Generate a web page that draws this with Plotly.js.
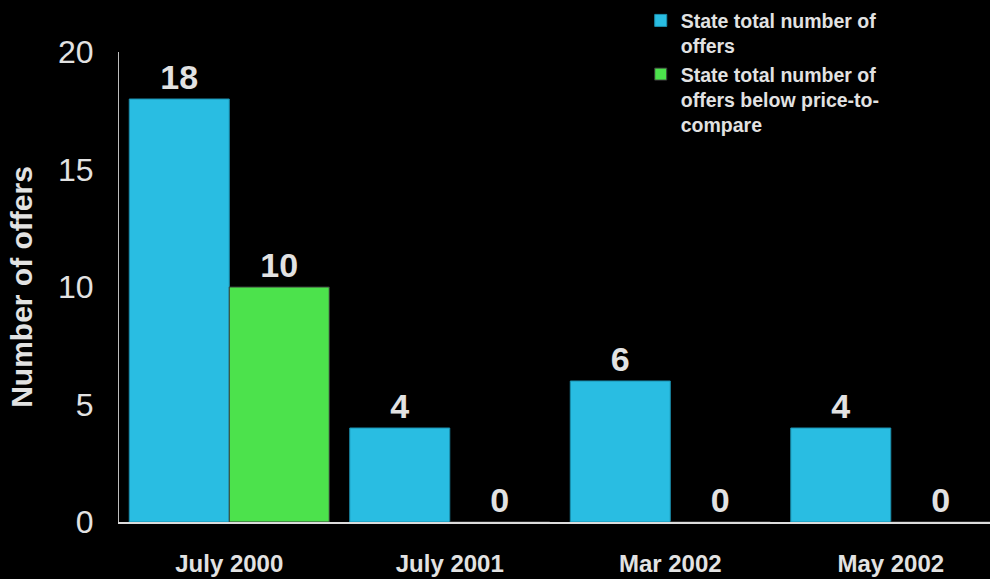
<!DOCTYPE html>
<html>
<head>
<meta charset="utf-8">
<script src="https://cdn.plot.ly/plotly-3.0.1.min.js"></script>
<style>html,body{margin:0;padding:0;background:#000;}#chart{width:990px;height:579px;}</style>
</head>
<body>
<div id="chart"></div>
<script>
const categories = ["July 2000", "July 2001", "Mar 2002", "May 2002"];
const seriesNames = ["State total number of<br>offers", "State total number of<br>offers below price-to-<br>compare"];
const totalOffers = [18, 4, 6, 4];
const belowPTC = [10, 0, 0, 0];
const yTicks = [0, 5, 10, 15, 20];

const FONT = "Liberation Sans, Arial, sans-serif";
const TXT = "#e2e2e2";

const traces = [
  {
    type: "bar", name: seriesNames[0], x: categories, y: totalOffers,
    marker: {color: "#29bde2", line: {color: "#1b8fae", width: 1}},
    text: totalOffers.map(String), textposition: "outside",
    textfont: {family: FONT, size: 34, color: TXT, weight: "bold"},
    cliponaxis: false
  },
  {
    type: "bar", name: seriesNames[1], x: categories, y: belowPTC,
    marker: {color: "#4ce24c", line: {color: "#3a3a3a", width: 1}},
    text: belowPTC.map(String), textposition: "outside",
    textfont: {family: FONT, size: 34, color: TXT, weight: "bold"},
    cliponaxis: false
  }
];

const layout = {
  width: 990, height: 579,
  paper_bgcolor: "#000", plot_bgcolor: "#000",
  margin: {l: 119, r: 0, t: 52, b: 57},
  barmode: "group", bargap: 0.093, bargroupgap: 0,
  font: {family: FONT, color: TXT},
  showlegend: true,
  legend: {
    x: 0.599, y: 1.108, xanchor: "left", yanchor: "top",
    bgcolor: "rgba(0,0,0,0)", valign: "top", tracegroupgap: 0,
    font: {family: FONT, size: 19.5, color: TXT, weight: "bold"}
  },
  xaxis: {
    type: "category", range: [-0.5, 3.45],
    showline: true, linecolor: "#dcdcdc", linewidth: 2,
    showgrid: false, zeroline: false, ticks: "",
    tickfont: {family: FONT, size: 24, color: TXT, weight: "bold"},
    ticklabelstandoff: 19
  },
  yaxis: {
    range: [0, 20], tickvals: yTicks, ticktext: yTicks.map(String),
    showline: true, linecolor: "#bdbdbd", linewidth: 1,
    showgrid: false, zeroline: false, ticks: "",
    tickfont: {family: FONT, size: 32, color: TXT},
    ticklabelstandoff: 18,
    title: {text: "Number of offers", font: {family: FONT, size: 30, color: TXT, weight: "bold"}, standoff: 16}
  }
};

Plotly.newPlot("chart", traces, layout, {displayModeBar: false, staticPlot: true});
</script>
</body>
</html>
